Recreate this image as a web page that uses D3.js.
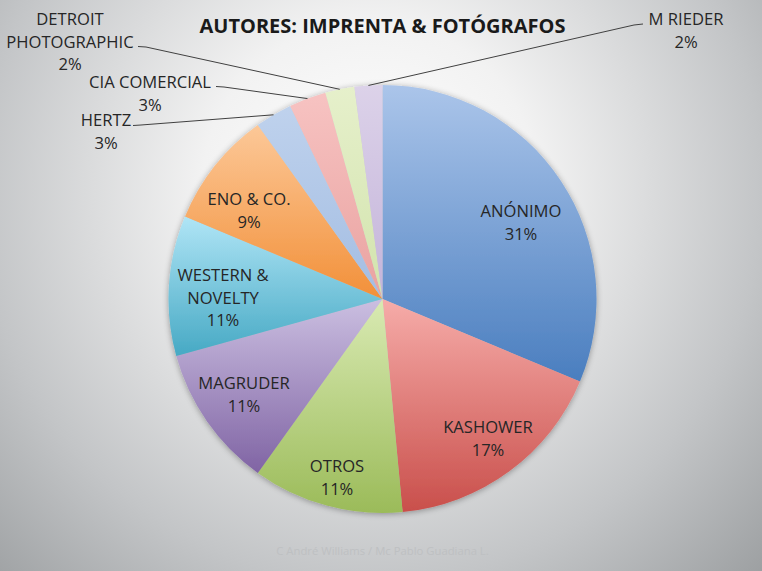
<!DOCTYPE html>
<html>
<head>
<meta charset="utf-8">
<script src="https://cdn.jsdelivr.net/npm/d3@7/dist/d3.min.js"></script>
<style>
  html, body { margin: 0; padding: 0; background: #fff; }
  svg { display: block; }
  text { font-family: "Open Sans", "Noto Sans", sans-serif; fill: #262626; }
</style>
</head>
<body>
<svg id="chart" width="762" height="571"></svg>
<script>
// ---------- data ----------
const categories = ["ANÓNIMO", "KASHOWER", "OTROS", "MAGRUDER", "WESTERN & NOVELTY",
                    "ENO & CO.", "HERTZ", "CIA COMERCIAL", "DETROIT PHOTOGRAPHIC", "M RIEDER"];
const values = [31.3, 17.2, 11.4, 10.8, 10.6, 8.8, 2.8, 2.8, 2.2, 2.1];
const labelLines = [["ANÓNIMO"], ["KASHOWER"], ["OTROS"], ["MAGRUDER"], ["WESTERN &", "NOVELTY"],
                    ["ENO & CO."], ["HERTZ"], ["CIA COMERCIAL"], ["DETROIT", "PHOTOGRAPHIC"], ["M RIEDER"]];
const title = "AUTORES: IMPRENTA & FOTÓGRAFOS";
const footer = "C André Williams / Mc Pablo Guadiana L.";

// ---------- style / layout ----------
const colorTop = ["#abc5ea", "#f6aca9", "#d9eab3", "#cbbfe1", "#b0e5f6", "#fcc898",
                  "#bfd2ed", "#f7c3c2", "#e6f0cb", "#dcd2e9"];
const colorBot = ["#4a7ebf", "#c94f4b", "#9bbb59", "#8064a4", "#46a9c4", "#f29039",
                  "#a3bde2", "#e9a2a0", "#d2e3ad", "#c4b4da"];
// label anchor: [centerX, firstBaselineY]
const labelPos = [[521, 217], [488, 433], [337, 472], [244, 389], [223, 281],
                  [249, 205], [106, 126], [150, 88], [70, 25], [686, 25]];
const outside = [false, false, false, false, false, false, true, true, true, true];
const leaderStart = [null, null, null, null, null, null, [133, 125.5], [216, 86.5], [138, 46.5], [643, 24]];
const leaderKnee  = [null, null, null, null, null, null, [141, 125], [224, 87], [146, 47], [634, 25]];

const W = 762, H = 571, cx = 382.5, cy = 299, R = 214, lineH = 22.5;

const svg = d3.select("#chart");
const defs = svg.append("defs");

// background radial gradient
const bg = defs.append("radialGradient").attr("id", "bg")
  .attr("gradientUnits", "userSpaceOnUse")
  .attr("cx", 370).attr("cy", 190).attr("r", 560);
bg.append("stop").attr("offset", "0%").attr("stop-color", "#ffffff");
bg.append("stop").attr("offset", "30%").attr("stop-color", "#f2f2f2");
bg.append("stop").attr("offset", "70%").attr("stop-color", "#c3c5c7");
bg.append("stop").attr("offset", "100%").attr("stop-color", "#9a9d9f");
svg.append("rect").attr("width", W).attr("height", H).attr("fill", "url(#bg)");

// slice gradients
categories.forEach((c, i) => {
  const g = defs.append("linearGradient").attr("id", "g" + i)
    .attr("x1", 0).attr("y1", 0).attr("x2", 0).attr("y2", 1);
  g.append("stop").attr("offset", "0%").attr("stop-color", colorTop[i]);
  g.append("stop").attr("offset", "100%").attr("stop-color", colorBot[i]);
});

// soft shadow
const f = defs.append("filter").attr("id", "shadow")
  .attr("x", "-10%").attr("y", "-10%").attr("width", "120%").attr("height", "120%");
f.append("feGaussianBlur").attr("in", "SourceAlpha").attr("stdDeviation", 3).attr("result", "b");
f.append("feOffset").attr("in", "b").attr("dx", 0).attr("dy", 1).attr("result", "o");
f.append("feComponentTransfer").attr("in", "o").attr("result", "s")
  .append("feFuncA").attr("type", "linear").attr("slope", 0.35);
const fm = f.append("feMerge");
fm.append("feMergeNode").attr("in", "s");
fm.append("feMergeNode").attr("in", "SourceGraphic");

const total = d3.sum(values);
const data = categories.map((c, i) => ({ name: c, value: values[i], i }));
const pie = d3.pie().value(d => d.value).sort(null);
const arcs = pie(data);
const arc = d3.arc().innerRadius(0).outerRadius(R);
const edgeArc = d3.arc().innerRadius(R).outerRadius(R);

const g = svg.append("g").attr("transform", `translate(${cx},${cy})`);
g.append("g").attr("filter", "url(#shadow)")
  .selectAll("path").data(arcs).join("path")
  .attr("d", arc)
  .attr("fill", d => `url(#g${d.data.i})`);

// title
svg.append("text").attr("x", cx).attr("y", 32.5)
  .attr("text-anchor", "middle").attr("font-weight", "bold")
  .attr("font-size", 20).style("fill", "#1a1a1a").text(title);

// leader lines
arcs.forEach(d => {
  const i = d.data.i;
  if (!outside[i]) return;
  const [ex, ey] = edgeArc.centroid(d);
  const pts = [leaderStart[i], leaderKnee[i], [cx + ex, cy + ey]];
  svg.append("path")
    .attr("d", d3.line()(pts))
    .attr("fill", "none").attr("stroke", "#404040").attr("stroke-width", 1);
});

// labels
const fmt = v => Math.round(v / total * 100) + "%";
arcs.forEach(d => {
  const i = d.data.i;
  const lines = labelLines[i].concat([fmt(d.data.value)]);
  const t = svg.append("text").attr("text-anchor", "middle").attr("font-size", 16.6);
  lines.forEach((ln, k) => {
    t.append("tspan").attr("x", labelPos[i][0]).attr("y", labelPos[i][1] + k * lineH).text(ln);
  });
});

// footer
svg.append("text").attr("x", cx).attr("y", 555).attr("text-anchor", "middle")
  .attr("font-size", 11.3).style("fill", "#bec0c2").text(footer);
</script>
</body>
</html>
